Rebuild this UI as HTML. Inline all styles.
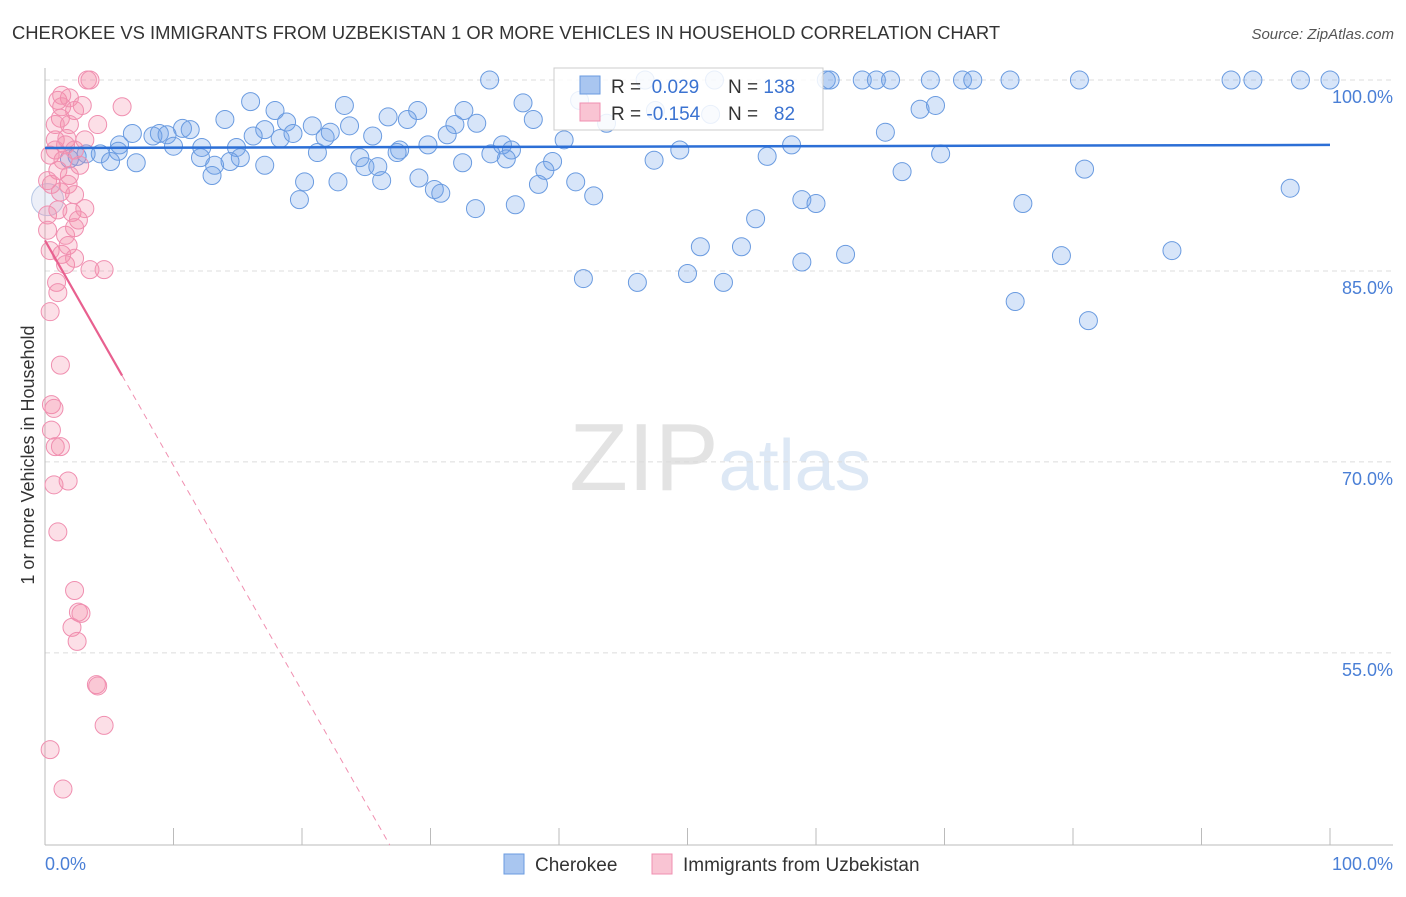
<!DOCTYPE html>
<html><head><meta charset="utf-8"><style>
body{margin:0;background:#fff;font-family:"Liberation Sans",sans-serif;}
svg text{font-family:"Liberation Sans",sans-serif;}
</style></head><body>
<svg id="chart" width="1406" height="892">
<text x="12" y="39" font-size="18.4" fill="#333">CHEROKEE VS IMMIGRANTS FROM UZBEKISTAN 1 OR MORE VEHICLES IN HOUSEHOLD CORRELATION CHART</text>
<text x="1394" y="39" font-size="15" fill="#555" text-anchor="end" font-style="italic">Source: ZipAtlas.com</text>
<text x="720" y="490" font-size="96" fill="#e6e6e6" text-anchor="middle" font-family="Liberation Serif"><tspan fill="#e3e3e3">ZIP</tspan><tspan fill="#dde8f5" font-family="Liberation Sans" font-size="72">atlas</tspan></text>
<g id="grid"></g>
<g id="axes"></g>
<g id="pts"></g>
<g id="trend"></g>
<text transform="translate(34,455) rotate(-90)" font-size="18" fill="#333" text-anchor="middle">1 or more Vehicles in Household</text>
<text x="45" y="870" font-size="18" fill="#4a7fd6">0.0%</text>
<text x="1393" y="870" font-size="18" fill="#4a7fd6" text-anchor="end">100.0%</text>
<g>
<rect x="554" y="68" width="269" height="62" fill="#fff" fill-opacity="0.85" stroke="#ccc"/>
<rect x="580" y="76" width="20" height="18" fill="#a9c6f0" stroke="#6a9be0"/>
<rect x="580" y="103" width="20" height="18" fill="#f9c4d3" stroke="#f08fb0"/>
<text x="611" y="93" font-size="19" fill="#333">R = <tspan fill="#3b73d1">&#160;0.029</tspan><tspan x="728">N = </tspan><tspan fill="#3b73d1">138</tspan></text>
<text x="611" y="120" font-size="19" fill="#333">R = <tspan fill="#3b73d1">-0.154</tspan><tspan x="728">N = </tspan><tspan fill="#3b73d1">&#160;&#160;82</tspan></text>
</g>
<g>
<rect x="504" y="854" width="20" height="20" fill="#a9c6f0" stroke="#6a9be0"/>
<text x="535" y="871" font-size="19" fill="#333">Cherokee</text>
<rect x="652" y="854" width="20" height="20" fill="#f9c4d3" stroke="#f08fb0"/>
<text x="683" y="871" font-size="19" fill="#333">Immigrants from Uzbekistan</text>
</g>
</svg>
<script>
const yTicks=[100,85,70,55];
const yTickLabels=["100.0%","85.0%","70.0%","55.0%"];
const xTicks=[0,10,20,30,40,50,60,70,80,90,100];
const blueX=[34.6,46.7,52.1,60.8,61.1,63.6,64.7,65.8,68.9,71.4,72.2,75.1,80.5,92.3,94.0,97.7,100,16.0,17.9,23.3,37.2,29.0,26.7,32.6,14.0,18.8,23.7,20.8,28.2,31.9,33.6,38.0,68.1,69.3,65.4,10.7,11.3,6.8,8.9,8.4,9.5,17.1,16.2,18.3,19.3,21.8,22.2,25.5,31.3,40.4,5.8,5.7,4.3,3.2,2.5,1.9,5.1,7.1,10.0,12.2,12.1,14.9,15.2,13.2,14.4,13.0,17.1,21.2,24.5,24.9,25.9,27.6,27.4,29.8,32.5,34.7,35.6,36.3,35.9,39.5,38.9,47.4,49.4,56.2,58.1,69.7,20.2,22.8,26.2,29.1,30.3,30.8,38.4,41.3,42.7,19.8,33.5,36.6,58.9,60.0,66.7,80.9,96.9,76.1,55.3,51.0,54.2,62.3,58.9,50.0,41.9,46.1,52.8,79.1,87.7,75.5,81.2,43.7,47.5,51.8,41.6,0.2];
const blueY=[100,100,100,100,100,100,100,100,100,100,100,100,100,100,100,100,100,98.3,97.6,98.0,98.2,97.6,97.1,97.6,96.9,96.7,96.4,96.4,96.9,96.5,96.6,96.9,97.7,98.0,95.9,96.2,96.1,95.8,95.8,95.6,95.7,96.1,95.6,95.4,95.8,95.5,95.9,95.6,95.7,95.3,94.9,94.4,94.2,94.2,94.0,93.8,93.6,93.5,94.8,94.7,93.9,94.7,93.9,93.3,93.6,92.5,93.3,94.3,93.9,93.2,93.2,94.5,94.3,94.9,93.5,94.2,94.9,94.5,93.8,93.6,92.9,93.7,94.5,94.0,94.9,94.2,92.0,92.0,92.1,92.3,91.4,91.1,91.8,92.0,90.9,90.6,89.9,90.2,90.6,90.3,92.8,93.0,91.5,90.3,89.1,86.9,86.9,86.3,85.7,84.8,84.4,84.1,84.1,86.2,86.6,82.6,81.1,96.6,97.6,97.3,98.4,90.6];
const pinkX=[3.3,3.5,1.0,1.9,1.3,2.9,2.3,6.0,1.2,1.9,4.1,0.8,1.7,1.6,0.4,0.8,1.4,1.0,1.9,0.2,0.5,1.8,2.3,1.2,0.2,1.0,2.1,3.1,2.6,0.2,1.6,2.3,1.8,0.4,1.3,2.3,1.6,3.5,4.6,0.9,1.0,0.4,1.2,0.5,0.7,0.5,0.8,1.2,0.7,1.8,1.0,2.3,2.6,2.8,2.1,2.5,4.0,4.1,4.6,0.4,1.4,2.3,3.1,2.7,1.3,0.8];
const pinkY=[100,100,98.4,98.6,97.9,98.0,97.6,97.9,97.0,96.5,96.5,95.3,95.4,94.9,94.1,94.5,93.7,92.9,92.5,92.1,91.8,91.8,91.0,91.2,89.4,89.8,89.6,89.9,89.0,88.2,87.8,88.4,87.0,86.6,86.3,86.0,85.5,85.1,85.1,84.1,83.3,81.8,77.6,74.5,74.2,72.5,71.2,71.2,68.2,68.5,64.5,59.9,58.2,58.1,57.0,55.9,52.5,52.4,49.3,47.4,44.3,94.5,95.3,93.3,98.8,96.5];
const blueTrend=[94.66,94.9];
const pinkTrend=[87.4,-1.77];
const pinkSolidEnd=6;
const NS="http://www.w3.org/2000/svg";
const X=v=>45+v*12.85;
const Y=v=>80+(100-v)*12.73;
function mk(tag,attrs,parent){const e=document.createElementNS(NS,tag);for(const k in attrs)e.setAttribute(k,attrs[k]);parent.appendChild(e);return e;}
const grid=document.getElementById('grid'),axes=document.getElementById('axes'),pts=document.getElementById('pts'),trend=document.getElementById('trend');
yTicks.forEach((t,i)=>{
 const l=mk('line',{x1:45,x2:1393,y1:Y(t),y2:Y(t),stroke:'#dcdcdc','stroke-dasharray':'5,4'},grid);
 
 
 const tx=mk('text',{x:1393,y:Y(t)+23,'font-size':18,fill:'#4a7fd6','text-anchor':'end'},grid);
 tx.textContent=yTickLabels[i];
 
 
});
const ya=mk('line',{x1:45,x2:45,y1:68,y2:845,stroke:'#bbb'},axes);


const xa=mk('line',{x1:45,x2:1393,y1:845,y2:845,stroke:'#bbb'},axes);


xTicks.forEach(t=>{
 const l=mk('line',{x1:X(t),x2:X(t),y1:828,y2:845,stroke:'#bbb'},axes);
 
 
});
blueX.forEach((x,i)=>{
 const big=i==blueX.length-1;
 const c=mk('circle',{cx:X(x),cy:Y(blueY[i]),r:big?16:9,fill:big?'rgba(200,210,235,0.35)':'rgba(110,160,235,0.28)',stroke:big?'#b8c8e6':'#6a9be0','stroke-width':1},pts);
 
 
});
pinkX.forEach((x,i)=>{
 const c=mk('circle',{cx:X(x),cy:Y(pinkY[i]),r:9,fill:'rgba(245,140,170,0.28)',stroke:'#f08fb0','stroke-width':1},pts);
 
 
});
const bl=mk('line',{x1:X(0),y1:Y(blueTrend[0]),x2:X(100),y2:Y(blueTrend[1]),stroke:'#2c6fd6','stroke-width':2.5},trend);


const pY=x=>pinkTrend[0]+pinkTrend[1]*x;
const xEnd=(pinkTrend[0]-39.9)/(-pinkTrend[1]);
const ps=mk('line',{x1:X(0),y1:Y(pY(0)),x2:X(pinkSolidEnd),y2:Y(pY(pinkSolidEnd)),stroke:'#e8608f','stroke-width':2.2},trend);


const pd=mk('line',{x1:X(pinkSolidEnd),y1:Y(pY(pinkSolidEnd)),x2:X(xEnd),y2:Y(pY(xEnd)),stroke:'#f08fb0','stroke-width':1,'stroke-dasharray':'6,5'},trend);


</script>
</body></html>
